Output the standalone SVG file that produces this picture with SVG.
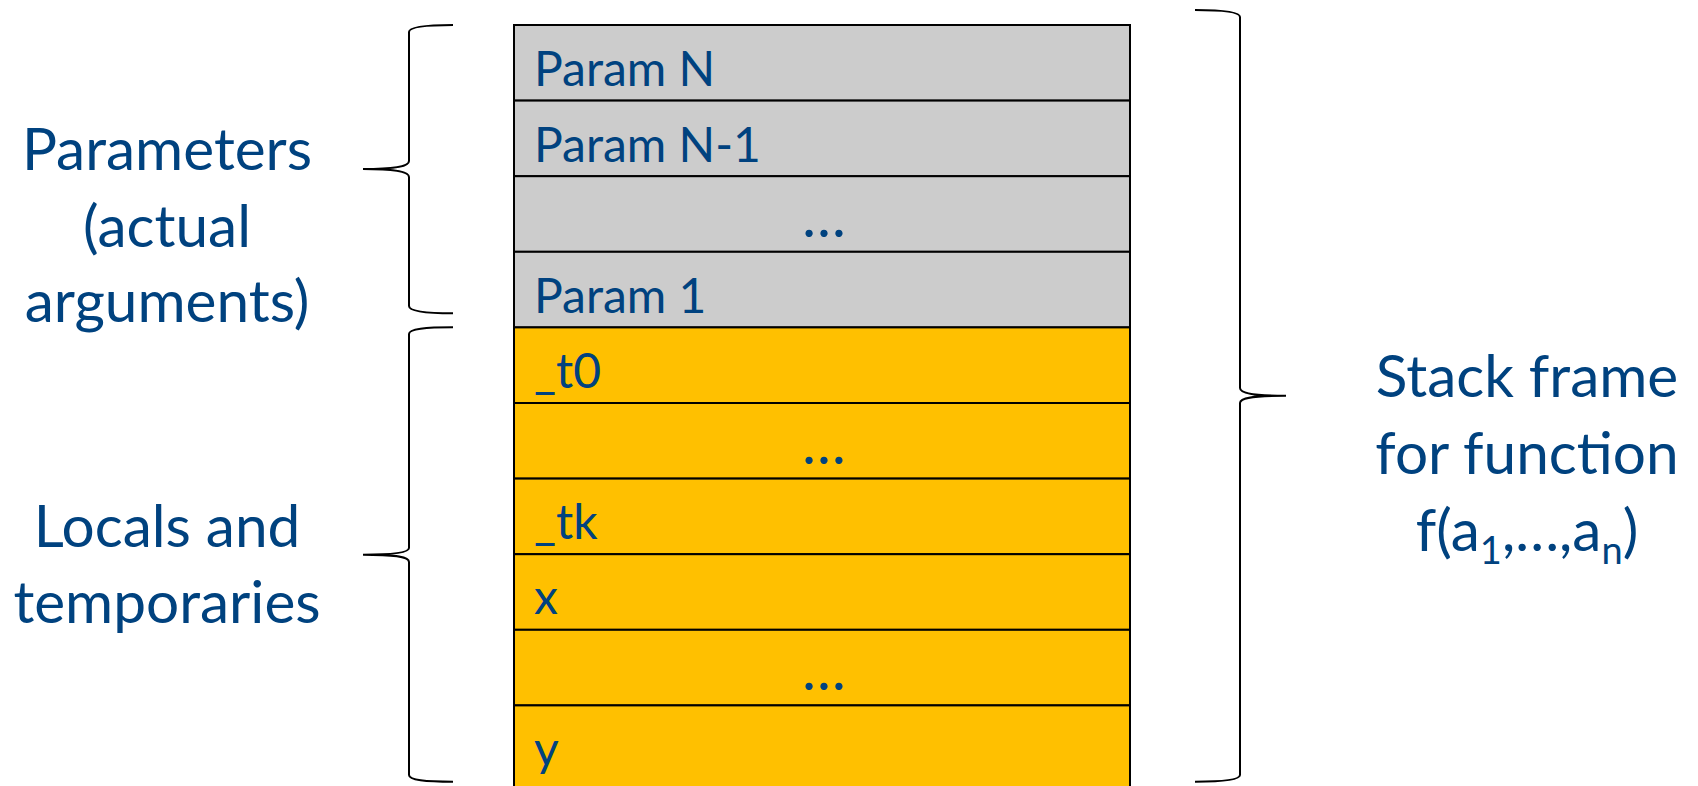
<svg xmlns="http://www.w3.org/2000/svg" width="1698" height="786" viewBox="0 0 1698 786">
<style>
.cell-g{fill:#CCCCCC;stroke:#000;stroke-width:2}
.cell-o{fill:#FFC000;stroke:#000;stroke-width:2}
.ct{font-family:Lato,"Open Sans",sans-serif;font-size:48px;fill:#00427F}
.dots{font-family:Lato,"Open Sans",sans-serif;font-size:58px;fill:#00427F;text-anchor:middle}
.lbl{font-family:Lato,"Open Sans",sans-serif;font-size:58.5px;fill:#00427F;text-anchor:middle}
.brace{fill:none;stroke:#000;stroke-width:2}
</style>
<rect width="1698" height="786" fill="#fff"/>
<g id="cells">
<g id="param-n"><rect class="cell-g" x="514" y="25" width="616" height="75.6"/><text class="ct" x="534" y="86">Param N</text></g>
<g id="param-n-1"><rect class="cell-g" x="514" y="100.6" width="616" height="75.6"/><text class="ct" x="534" y="162">Param N-1</text></g>
<g id="param-dots"><rect class="cell-g" x="514" y="176.2" width="616" height="75.6"/><text class="dots" x="824" y="237">…</text></g>
<g id="param-1"><rect class="cell-g" x="514" y="251.8" width="616" height="75.6"/><text class="ct" x="534" y="313">Param 1</text></g>
<g id="t0"><rect class="cell-o" x="514" y="327.4" width="616" height="75.6"/><text class="ct" x="534" y="388">_t0</text></g>
<g id="t-dots"><rect class="cell-o" x="514" y="403" width="616" height="75.6"/><text class="dots" x="824" y="464">…</text></g>
<g id="tk"><rect class="cell-o" x="514" y="478.6" width="616" height="75.6"/><text class="ct" x="534" y="539">_tk</text></g>
<g id="x"><rect class="cell-o" x="514" y="554.2" width="616" height="75.6"/><text class="ct" x="534" y="614">x</text></g>
<g id="xy-dots"><rect class="cell-o" x="514" y="629.8" width="616" height="75.6"/><text class="dots" x="824" y="690">…</text></g>
<g id="y"><rect class="cell-o" x="514" y="705.4" width="616" height="90"/><text class="ct" x="534" y="766">y</text></g>
</g>
<g id="connectors">
<path class="brace" d="M453,25 C425,25 409,27 409,32 L409,161 C409,166 398,169 363,169 C398,169 409,172 409,177 L409,306 C409,311 425,313.3 453,313.3"/>
<path class="brace" d="M453,327.3 C425,327.3 409,329 409,334 L409,548 C409,552 398,554.7 363,554.7 C398,554.7 409,557 409,562 L409,775 C409,780 425,781.7 453,781.7"/>
<path class="brace" d="M1195,10 C1222,10 1240,12 1240,17 L1240,388 C1240,393 1252,395.7 1286,395.7 C1252,395.7 1240,398 1240,403 L1240,775 C1240,780 1222,781.7 1195,781.7"/>
</g>
<g id="label-params">
<text class="lbl" x="167" y="170">Parameters</text>
<text class="lbl" x="167" y="246.5">(actual</text>
<text class="lbl" x="167" y="322">arguments)</text>
</g>
<g id="label-locals">
<text class="lbl" x="167" y="547">Locals and</text>
<text class="lbl" x="167" y="623">temporaries</text>
</g>
<g id="label-frame">
<text class="lbl" x="1527" y="397">Stack frame</text>
<text class="lbl" x="1527" y="473.5">for function</text>
<text class="lbl" x="1527" y="551">f(a<tspan font-size="38" dy="13">1</tspan><tspan dy="-13">,…,a</tspan><tspan font-size="38" dy="13">n</tspan><tspan dy="-13">)</tspan></text>
</g>
</svg>
